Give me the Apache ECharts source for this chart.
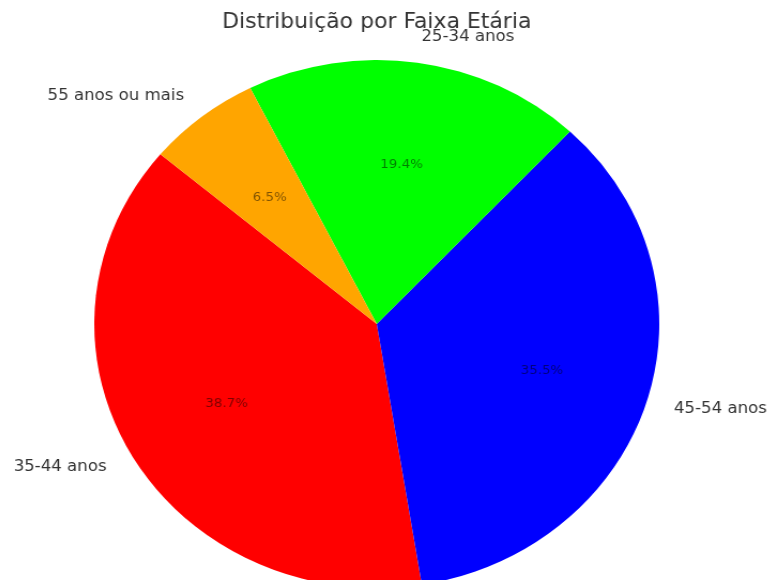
<!DOCTYPE html>
<html>
<head>
<meta charset="utf-8">
<script src="https://cdn.jsdelivr.net/npm/echarts@6/dist/echarts.min.js"></script>
<style>
html, body { margin: 0; padding: 0; overflow: hidden; background: #fff; }
/* a pizza do original e uma elipse: estica o grafico na horizontal */
#grafico { position: absolute; left: -17px; top: 0; width: 736px; height: 580px; transform: scaleX(1.07); transform-origin: 0 0; }
</style>
</head>
<body>
<div id="grafico"></div>
<script>
//Distribuicao por faixa etaria
var titulo = 'Distribuição por Faixa Etária';
var categorias = ['35-44 anos', '45-54 anos', '25-34 anos', '55 anos ou mais'];
var percentuais = [38.7, 35.5, 19.4, 6.5];
var cores = ['#ff0000', '#0000ff', '#00ff00', '#ffa500'];

var fonte = 'DejaVu Sans';
var raio = 264;
var centro = [368, 324];

var dados = categorias.map(function (nome, i) {
  return { name: nome, value: percentuais[i], itemStyle: { color: cores[i] } };
});

var option = {
  animation: false,
  title: {
    text: titulo,
    left: 'center',
    top: 7,
    textStyle: { fontFamily: fonte, fontSize: 20.5, fontWeight: 'normal', color: '#333' }
  },
  series: [
    {
      // fatias + nomes (a 1.1 do raio)
      type: 'pie',
      center: centro,
      radius: raio,
      startAngle: 140,
      clockwise: false,
      avoidLabelOverlap: false,
      silent: true,
      emphasis: { disabled: true },
      itemStyle: { borderWidth: 0 },
      label: {
        show: true,
        position: 'outside',
        formatter: '{b}',
        fontFamily: fonte,
        fontSize: 15.5,
        color: '#333',
        distanceToLabelLine: 0
      },
      labelLine: { show: false, length: raio * 0.1, length2: 0 },
      data: dados
    },
    {
      // percentuais (a 0.6 do raio)
      type: 'pie',
      center: centro,
      radius: raio * 1.2,
      startAngle: 140,
      clockwise: false,
      silent: true,
      emphasis: { disabled: true },
      itemStyle: { color: 'transparent', borderWidth: 0 },
      label: {
        show: true,
        position: 'inside',
        formatter: function (p) { return p.value.toFixed(1) + '%'; },
        fontFamily: fonte,
        fontSize: 12.5,
        color: 'rgba(0,0,0,0.5)'
      },
      labelLine: { show: false },
      data: percentuais.map(function (v, i) { return { name: categorias[i], value: v }; })
    }
  ]
};

echarts.init(document.getElementById('grafico')).setOption(option);
</script>
</body>
</html>
